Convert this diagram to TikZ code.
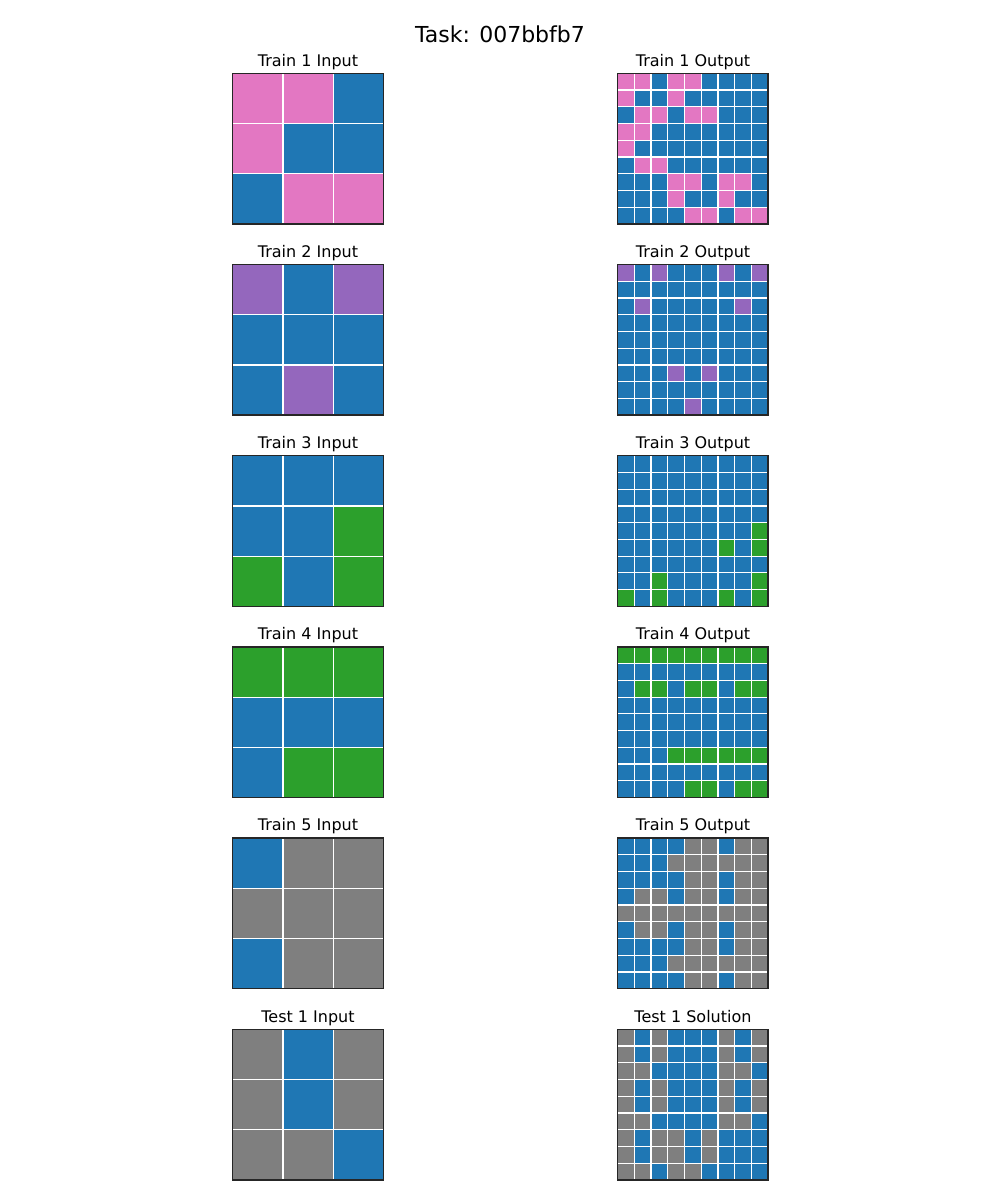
\documentclass[tikz,border=0pt]{standalone}
\usepackage{fontspec}
\setmainfont{DejaVu Sans}
\definecolor{c0}{HTML}{1F77B4}
\definecolor{c1}{HTML}{E377C2}
\definecolor{c2}{HTML}{9467BD}
\definecolor{c3}{HTML}{2CA02C}
\definecolor{c4}{HTML}{7F7F7F}
\tikzset{
  subtitle/.style={anchor=base, inner sep=0pt, font=\fontsize{16}{19}\selectfont},
  maintitle/.style={anchor=base, inner sep=0pt, font=\fontsize{22}{26}\selectfont},
  gridline/.style={draw=white, line width=1.2pt},
  frameline/.style={draw=black!85, line width=1.3pt},
}
\newcommand\arcpair[5]{% #1 row index, #2 left title, #3 right title, #4 array, #5 name
  \def\arr{#4}
  \pgfmathsetmacro\gtop{73.3+#1*191.2}
  \node[subtitle] (#5in) at (308,\gtop-7.3) {#2};
  \node[subtitle] (#5out) at (693,\gtop-7.3) {#3};
  % input grid
  \foreach \r in {0,1,2}{\foreach \c in {0,1,2}{
    \pgfmathtruncatemacro\v{\arr[3*\r+\c]}
    \fill[c\v] (232.7+\c*50.2,\gtop+\r*50.2) rectangle ++(50.2,50.2);
  }}
  \foreach \i in {1,2}{
    \draw[gridline] (232.7+\i*50.2,\gtop) -- ++(0,150.6);
    \draw[gridline] (232.7,\gtop+\i*50.2) -- ++(150.6,0);
  }
  \draw[frameline] (232.7,\gtop) rectangle ++(150.6,150.6);
  % output grid
  \foreach \R in {0,...,8}{\foreach \C in {0,...,8}{
    \pgfmathtruncatemacro\o{\arr[3*floor(\R/3)+floor(\C/3)]}
    \pgfmathtruncatemacro\w{\arr[3*mod(\R,3)+mod(\C,3)]}
    \pgfmathtruncatemacro\v{\o==0 ? 0 : \w}
    \fill[c\v] (617.5+\C*16.7333,\gtop+\R*16.7333) rectangle ++(16.7333,16.7333);
  }}
  \foreach \i in {1,...,8}{
    \draw[gridline] (617.5+\i*16.7333,\gtop) -- ++(0,150.6);
    \draw[gridline] (617.5,\gtop+\i*16.7333) -- ++(150.6,0);
  }
  \draw[frameline] (617.5,\gtop) rectangle ++(150.6,150.6);
}
\begin{document}
\begin{tikzpicture}[x=1pt,y=-1pt]
  \useasboundingbox[fill=white] (0,0) rectangle (1000,1200);
  \node[maintitle] (title) at (500,42.3) {Task: 007bbfb7};
  \arcpair{0}{Train 1 Input}{Train 1 Output}{{1,1,0,1,0,0,0,1,1}}{tA}
  \arcpair{1}{Train 2 Input}{Train 2 Output}{{2,0,2,0,0,0,0,2,0}}{tB}
  \arcpair{2}{Train 3 Input}{Train 3 Output}{{0,0,0,0,0,3,3,0,3}}{tC}
  \arcpair{3}{Train 4 Input}{Train 4 Output}{{3,3,3,0,0,0,0,3,3}}{tD}
  \arcpair{4}{Train 5 Input}{Train 5 Output}{{0,4,4,4,4,4,0,4,4}}{tE}
  \arcpair{5}{Test 1 Input}{Test 1 Solution}{{4,0,4,4,0,4,4,4,0}}{tF}
\end{tikzpicture}
\end{document}
